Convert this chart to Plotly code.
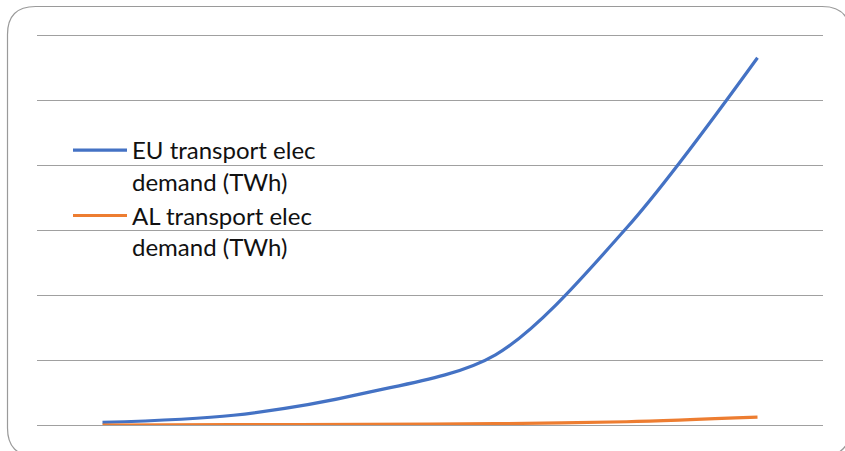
import plotly.graph_objects as go

# Six evenly spaced periods along a category-style axis
steps = [0, 1, 2, 3, 4, 5]

# Transport electricity demand, in gridline units (one unit per gridline)
eu_demand = [0.04, 0.15, 0.49, 1.08, 3.03, 5.65]
al_demand = [0.00, 0.005, 0.01, 0.02, 0.05, 0.12]

series_names = ["EU transport elec<br>demand (TWh)", "AL transport elec<br>demand (TWh)"]
series_colors = ["#4472C4", "#ED7D31"]

W, H = 845, 451
ML, MR, MT, MB = 37, 22, 32, 26
PW, PH = W - ML - MR, H - MT - MB
UNIT_PX = 65  # pixels per gridline step
Y_TOP = PH / UNIT_PX  # a little headroom so the top gridline is kept

fig = go.Figure()
for vals, name, col in zip([eu_demand, al_demand], series_names, series_colors):
    fig.add_trace(go.Scatter(
        x=steps, y=vals, name=name, mode="lines",
        line=dict(color=col, width=3.2, shape="spline", smoothing=0.9),
    ))


def P(px, py):
    a, b = (px - ML) / PW, (H - MB - py) / PH
    return f"{a:.5f},{b:.5f}"


# Rounded chart border drawn in paper coordinates
x0, x1, y0, y1, r = 7.5, 850, 6.5, 456, 28
path = (
    f"M {P(x0 + r, y0)} L {P(x1 - r, y0)} Q {P(x1, y0)} {P(x1, y0 + r)} "
    f"L {P(x1, y1 - r)} Q {P(x1, y1)} {P(x1 - r, y1)} "
    f"L {P(x0 + r, y1)} Q {P(x0, y1)} {P(x0, y1 - r)} "
    f"L {P(x0, y0 + r)} Q {P(x0, y0)} {P(x0 + r, y0)} Z"
)
fig.add_shape(type="path", path=path, xref="paper", yref="paper",
              line=dict(color="#9a9a9a", width=1.2), layer="below")

fig.update_layout(
    width=W, height=H,
    margin=dict(l=ML, r=MR, t=MT, b=MB),
    paper_bgcolor="white", plot_bgcolor="white",
    showlegend=True,
    legend=dict(
        x=(68 - ML) / PW, y=(H - MB - 128) / PH,
        xanchor="left", yanchor="top",
        font=dict(family="Lato, Liberation Sans, sans-serif", size=24, color="#111111"),
        bgcolor="rgba(0,0,0,0)", valign="top", tracegroupgap=0, itemwidth=54,
    ),
    xaxis=dict(range=[-0.5, 5.5], showgrid=False, zeroline=False,
               showticklabels=False, showline=False, ticks=""),
    yaxis=dict(range=[0, Y_TOP], tick0=0, dtick=1, showgrid=True, gridcolor="#a0a0a0",
               gridwidth=1, zeroline=True, zerolinecolor="#a0a0a0", zerolinewidth=1,
               showticklabels=False, showline=False, ticks=""),
)

fig.write_html("out.html")
